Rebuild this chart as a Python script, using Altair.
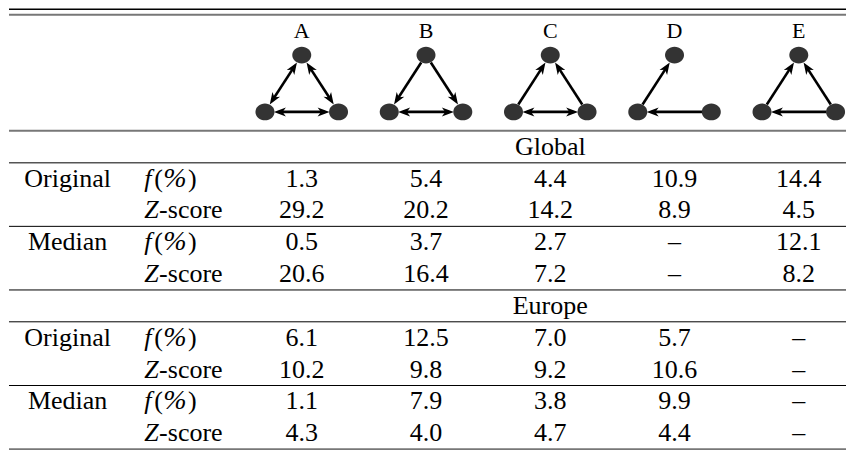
import math
import altair as alt
import pandas as pd

# ---------------- data ----------------
motifs = ["A", "B", "C", "D", "E"]
regions = ["Global", "Europe"]
methods = ["Original", "Median"]

global_original_f = [1.3, 5.4, 4.4, 10.9, 14.4]
global_original_z = [29.2, 20.2, 14.2, 8.9, 4.5]
global_median_f = [0.5, 3.7, 2.7, None, 12.1]
global_median_z = [20.6, 16.4, 7.2, None, 8.2]
europe_original_f = [6.1, 12.5, 7.0, 5.7, None]
europe_original_z = [10.2, 9.8, 9.2, 10.6, None]
europe_median_f = [1.1, 7.9, 3.8, 9.9, None]
europe_median_z = [4.3, 4.0, 4.7, 4.4, None]

# motif edges: (source, target, bidirectional); nodes T=top, L=bottom-left, R=bottom-right
motif_edges = {
    "A": [("T", "L", True), ("T", "R", True), ("L", "R", True)],
    "B": [("T", "L", False), ("T", "R", False), ("L", "R", True)],
    "C": [("L", "T", False), ("R", "T", False), ("L", "R", True)],
    "D": [("L", "T", False), ("R", "L", False)],
    "E": [("L", "T", False), ("R", "T", False), ("R", "L", False)],
}

table = {
    "Global": {
        "Original": (global_original_f, global_original_z),
        "Median": (global_median_f, global_median_z),
    },
    "Europe": {
        "Original": (europe_original_f, europe_original_z),
        "Median": (europe_median_f, europe_median_z),
    },
}

# ---------------- layout (reference pixel frame) ----------------
FONT = "'Liberation Serif', 'Times New Roman', Times, 'DejaVu Serif', serif"
FS = 26
HFS = 22
COL0, COLSTEP = 305.5, 125.0
COL_X = [COL0 + COLSTEP * i for i in range(len(motifs))]
GROUP_X = 70
METRIC_X = 147
HEADER_Y = 27
LINE_X0, LINE_X1 = 11, 853
SECTION_BASE = [129.3, 291.7]
ROW_H = 32.5
NODE_OFF = {"T": (0, 52), "L": (-37, 110), "R": (37, 110)}
NODE_R = 9.0
ARROW_L = 12.0

def fmt(v):
    return "\u2013" if v is None else f"{v:.1f}"

head_txt, center_txt, left_txt, italic_txt, pct_txt = [], [], [], [], []
hlines = []

for i, m in enumerate(motifs):
    head_txt.append(dict(x=COL_X[i], y=HEADER_Y, t=m))

hlines.append(dict(y=5.3, c="#000000", w=1.3))
hlines.append(dict(y=11.0, c="#777777", w=2.0))

for s, reg in enumerate(regions):
    base = SECTION_BASE[s]
    hlines.append(dict(y=base, c="#777777" if s == 0 else "#000000", w=2.0 if s == 0 else 1.0))
    center_txt.append(dict(x=(COL_X[0] + COL_X[-1]) / 2, y=base + ROW_H / 2, t=reg))
    hlines.append(dict(y=base + ROW_H, c="#555555" if s == 0 else "#000000", w=1.5 if s == 0 else 1.0))
    for g, meth in enumerate(methods):
        if g > 0:
            hlines.append(dict(y=base + ROW_H + 2 * ROW_H * g, c="#000000", w=1.0))
        fvals, zvals = table[reg][meth]
        yf = base + ROW_H * (1 + 2 * g) + ROW_H / 2
        yz = yf + ROW_H
        center_txt.append(dict(x=GROUP_X, y=yf, t=meth))
        italic_txt.append(dict(x=METRIC_X, y=yf, t="f"))
        left_txt.append(dict(x=METRIC_X + 10, y=yf, t="("))
        pct_txt.append(dict(x=METRIC_X + 31, y=yf, t="%"))
        left_txt.append(dict(x=METRIC_X + 44, y=yf, t=")"))
        italic_txt.append(dict(x=METRIC_X, y=yz, t="Z"))
        left_txt.append(dict(x=METRIC_X + 15, y=yz, t="-score"))
        for i in range(len(motifs)):
            center_txt.append(dict(x=COL_X[i], y=yf, t=fmt(fvals[i])))
            center_txt.append(dict(x=COL_X[i], y=yz, t=fmt(zvals[i])))

hlines.append(dict(y=SECTION_BASE[-1] + 5 * ROW_H, c="#777777", w=2.0))

# motif graphs
nodes, edges, heads = [], [], []
for i, m in enumerate(motifs):
    cx = COL_X[i]
    pos = {k: (cx + dx, dy) for k, (dx, dy) in NODE_OFF.items()}
    for k, (px, py) in pos.items():
        nodes.append(dict(x=px, y=py))
    for a, b, both in motif_edges[m]:
        (ax, ay), (bx, by) = pos[a], pos[b]
        d = math.hypot(bx - ax, by - ay)
        ux, uy = (bx - ax) / d, (by - ay) / d
        tip_b = (bx - ux * NODE_R, by - uy * NODE_R)
        tip_a = (ax + ux * NODE_R, ay + uy * NODE_R)
        end_b = (tip_b[0] - ux * 5, tip_b[1] - uy * 5)
        end_a = (tip_a[0] + ux * 5, tip_a[1] + uy * 5) if both else tip_a
        edges.append(dict(x=end_a[0], y=end_a[1], x2=end_b[0], y2=end_b[1]))
        ang = math.degrees(math.atan2(ux, -uy)) % 360
        heads.append(dict(x=tip_b[0] - ux * ARROW_L / 2, y=tip_b[1] - uy * ARROW_L / 2, a=ang))
        if both:
            ang2 = math.degrees(math.atan2(-ux, uy)) % 360
            heads.append(dict(x=tip_a[0] + ux * ARROW_L / 2, y=tip_a[1] + uy * ARROW_L / 2, a=ang2))

for h in hlines:
    h["x"], h["x2"] = LINE_X0, LINE_X1

# ---------------- chart ----------------
XS = alt.Scale(domain=[10, 854], nice=False, zero=False)
YS = alt.Scale(domain=[455, 4], nice=False, zero=False)
X = alt.X("x:Q", scale=XS, axis=None)
Y = alt.Y("y:Q", scale=YS, axis=None)

rules = alt.Chart(pd.DataFrame(hlines)).mark_rule().encode(
    x=X, x2="x2:Q", y=Y,
    color=alt.Color("c:N", scale=None),
    strokeWidth=alt.StrokeWidth("w:Q", scale=None),
)

edge_layer = alt.Chart(pd.DataFrame(edges)).mark_rule(color="black", strokeWidth=2.6).encode(
    x=X, y=Y, x2="x2:Q", y2="y2:Q"
)

head_layer = alt.Chart(pd.DataFrame(heads)).mark_point(
    shape="M0,-1L0.75,1L0,0.45L-0.75,1Z", filled=True, color="black", opacity=1,
    size=ARROW_L ** 2, strokeWidth=0,
).encode(x=X, y=Y, angle=alt.Angle("a:Q", scale=None))

node_layer = alt.Chart(pd.DataFrame(nodes)).mark_point(
    shape="M-1,0A1,0.88,0,1,0,1,0A1,0.88,0,1,0,-1,0Z", filled=True, color="#333333",
    opacity=1, size=19 ** 2, strokeWidth=0,
).encode(x=X, y=Y)

txt_h = alt.Chart(pd.DataFrame(head_txt)).mark_text(
    font=FONT, fontSize=HFS, align="center", baseline="middle", color="black"
).encode(x=X, y=Y, text="t:N")

txt_c = alt.Chart(pd.DataFrame(center_txt)).mark_text(
    font=FONT, fontSize=FS, align="center", baseline="middle", color="black"
).encode(x=X, y=Y, text="t:N")

txt_l = alt.Chart(pd.DataFrame(left_txt)).mark_text(
    font=FONT, fontSize=FS, align="left", baseline="middle", color="black"
).encode(x=X, y=Y, text="t:N")

txt_p = alt.Chart(pd.DataFrame(pct_txt)).mark_text(
    font=FONT, fontSize=FS + 2, fontStyle="italic", align="center", baseline="middle", color="black"
).encode(x=X, y=Y, text="t:N")

txt_i = alt.Chart(pd.DataFrame(italic_txt)).mark_text(
    font=FONT, fontSize=FS, fontStyle="italic", align="left", baseline="middle", color="black"
).encode(x=X, y=Y, text="t:N")

chart = alt.layer(rules, edge_layer, head_layer, node_layer, txt_h, txt_c, txt_l, txt_p, txt_i).properties(
    width=839, height=442, padding=0, autosize=alt.AutoSizeParams(type="none"),
    background="white",
).configure_view(stroke=None)

chart.save("out.html", embed_options={"renderer": "svg", "actions": False})
